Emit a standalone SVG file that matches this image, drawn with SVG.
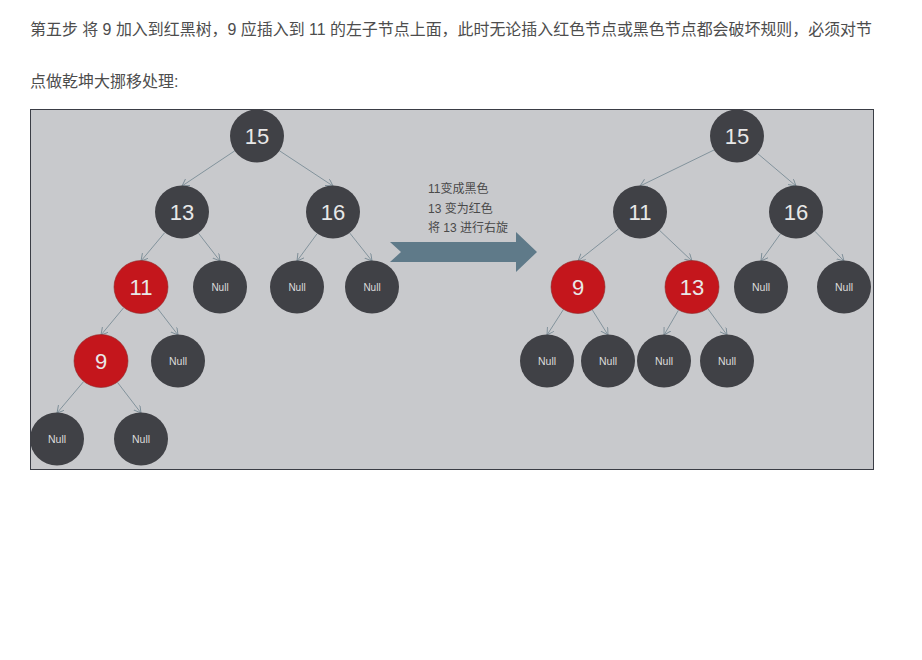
<svg xmlns="http://www.w3.org/2000/svg" width="922" height="660" viewBox="0 0 922 660">
<style>
.hdr{font-family:"Liberation Sans","Noto Sans CJK SC",sans-serif;font-size:16px;fill:#4d4d4d}
.blk{fill:#404146}
.red{fill:#c4161c;stroke:#8e2a2a;stroke-width:0.6}
.num{font-family:"Liberation Sans","Noto Sans CJK SC",sans-serif;font-size:22px;fill:#e8e8e8;text-anchor:middle}
.nul{font-family:"Liberation Sans",sans-serif;font-size:10.5px;fill:#dcdcdc;text-anchor:middle}
.nul2{font-family:"Liberation Sans",sans-serif;font-size:10px;fill:#dcdcdc;text-anchor:middle}
.lbl{font-family:"Liberation Sans","Noto Sans CJK SC",sans-serif;font-size:12px;fill:#4a4a4a}
#edges line{stroke:#7b8c96;stroke-width:0.9;marker-end:url(#ah)}
</style>
<defs>
<marker id="ah" markerWidth="9" markerHeight="9" refX="7" refY="4" orient="auto" markerUnits="userSpaceOnUse">
<path d="M0,0 L7,4 L0,8" fill="none" stroke="#7b8c96" stroke-width="0.9"/>
</marker>
</defs>
<rect width="922" height="660" fill="#ffffff"/>
<text class="hdr" x="30" y="35" textLength="842" lengthAdjust="spacingAndGlyphs">第五步 将 9 加入到红黑树，9 应插入到 11 的左子节点上面，此时无论插入红色节点或黑色节点都会破坏规则，必须对节</text>
<text class="hdr" x="30" y="87">点做乾坤大挪移处理:</text>
<rect x="30.5" y="109.5" width="843" height="360" fill="#c8c9cc" stroke="#3a3d45" stroke-width="1"/>

<g id="edges">
<line x1="234.5" y1="151" x2="182" y2="186"/>
<line x1="279.5" y1="150.8" x2="333" y2="186"/>
<line x1="164.7" y1="232.7" x2="141" y2="261"/>
<line x1="198.5" y1="233.3" x2="220" y2="261"/>
<line x1="317" y1="233.8" x2="297" y2="261"/>
<line x1="349.8" y1="233.1" x2="372" y2="261"/>
<line x1="123.7" y1="307.7" x2="101" y2="335"/>
<line x1="157.5" y1="308.4" x2="178" y2="335"/>
<line x1="83.6" y1="381.6" x2="57" y2="413"/>
<line x1="117.5" y1="382.4" x2="141" y2="413"/>

<line x1="714" y1="150" x2="640" y2="186"/>
<line x1="757.6" y1="153.5" x2="796" y2="186"/>
<line x1="618.8" y1="228.7" x2="578" y2="261"/>
<line x1="659.7" y1="230.5" x2="692" y2="261"/>
<line x1="780.3" y1="234" x2="761" y2="261"/>
<line x1="814.9" y1="231.3" x2="844" y2="261"/>
<line x1="563.3" y1="309.7" x2="547" y2="335"/>
<line x1="592.3" y1="309.9" x2="608" y2="335"/>
<line x1="678.4" y1="310.3" x2="664" y2="335"/>
<line x1="707.9" y1="308.8" x2="727" y2="335"/>
</g>

<!-- left tree -->
<g id="L15"><ellipse class="blk" cx="257" cy="136" rx="27" ry="26.5"/><text class="num" x="257" y="144">15</text></g>
<g id="L13"><ellipse class="blk" cx="182" cy="212" rx="27" ry="26.5"/><text class="num" x="182" y="220">13</text></g>
<g id="L16"><ellipse class="blk" cx="333" cy="212" rx="27" ry="26.5"/><text class="num" x="333" y="220">16</text></g>
<g id="L11"><ellipse class="red" cx="141" cy="287" rx="27" ry="26.5"/><text class="num" x="141" y="295">11</text></g>
<g id="LN1"><ellipse class="blk" cx="220" cy="287" rx="27" ry="26.5"/><text class="nul2" x="220" y="290.5">Null</text></g>
<g id="LN2"><ellipse class="blk" cx="297" cy="287" rx="27" ry="26.5"/><text class="nul2" x="297" y="290.5">Null</text></g>
<g id="LN3"><ellipse class="blk" cx="372" cy="287" rx="27" ry="26.5"/><text class="nul2" x="372" y="290.5">Null</text></g>
<g id="L9"><ellipse class="red" cx="101" cy="361" rx="27" ry="26.5"/><text class="num" x="101" y="369">9</text></g>
<g id="LN4"><ellipse class="blk" cx="178" cy="361" rx="27" ry="26.5"/><text class="nul" x="178" y="365">Null</text></g>
<g id="LN5"><ellipse class="blk" cx="57" cy="439" rx="27" ry="26.5"/><text class="nul" x="57" y="443">Null</text></g>
<g id="LN6"><ellipse class="blk" cx="141" cy="439" rx="27" ry="26.5"/><text class="nul" x="141" y="443">Null</text></g>

<!-- transition arrow -->
<g id="arrow">
<polygon points="390,242 516,242 516,232 537,252 516,272 516,262 390,262 401,252" fill="#5f7a89"/>
<text class="lbl" x="428" y="193">11变成黑色</text>
<text class="lbl" x="428" y="213">13 变为红色</text>
<text class="lbl" x="428" y="232">将 13 进行右旋</text>
</g>

<!-- right tree -->
<g id="R15"><ellipse class="blk" cx="737" cy="136" rx="27" ry="26.5"/><text class="num" x="737" y="144">15</text></g>
<g id="R11"><ellipse class="blk" cx="640" cy="212" rx="27" ry="26.5"/><text class="num" x="640" y="220">11</text></g>
<g id="R16"><ellipse class="blk" cx="796" cy="212" rx="27" ry="26.5"/><text class="num" x="796" y="220">16</text></g>
<g id="R9"><ellipse class="red" cx="578" cy="287" rx="27" ry="26.5"/><text class="num" x="578" y="295">9</text></g>
<g id="R13"><ellipse class="red" cx="692" cy="287" rx="27" ry="26.5"/><text class="num" x="692" y="295">13</text></g>
<g id="RN1"><ellipse class="blk" cx="761" cy="287" rx="27" ry="26.5"/><text class="nul" x="761" y="291">Null</text></g>
<g id="RN2"><ellipse class="blk" cx="844" cy="287" rx="27" ry="26.5"/><text class="nul" x="844" y="291">Null</text></g>
<g id="RN3"><ellipse class="blk" cx="547" cy="361" rx="27" ry="26.5"/><text class="nul" x="547" y="365">Null</text></g>
<g id="RN4"><ellipse class="blk" cx="608" cy="361" rx="27" ry="26.5"/><text class="nul" x="608" y="365">Null</text></g>
<g id="RN5"><ellipse class="blk" cx="664" cy="361" rx="27" ry="26.5"/><text class="nul" x="664" y="365">Null</text></g>
<g id="RN6"><ellipse class="blk" cx="727" cy="361" rx="27" ry="26.5"/><text class="nul" x="727" y="365">Null</text></g>
</svg>
